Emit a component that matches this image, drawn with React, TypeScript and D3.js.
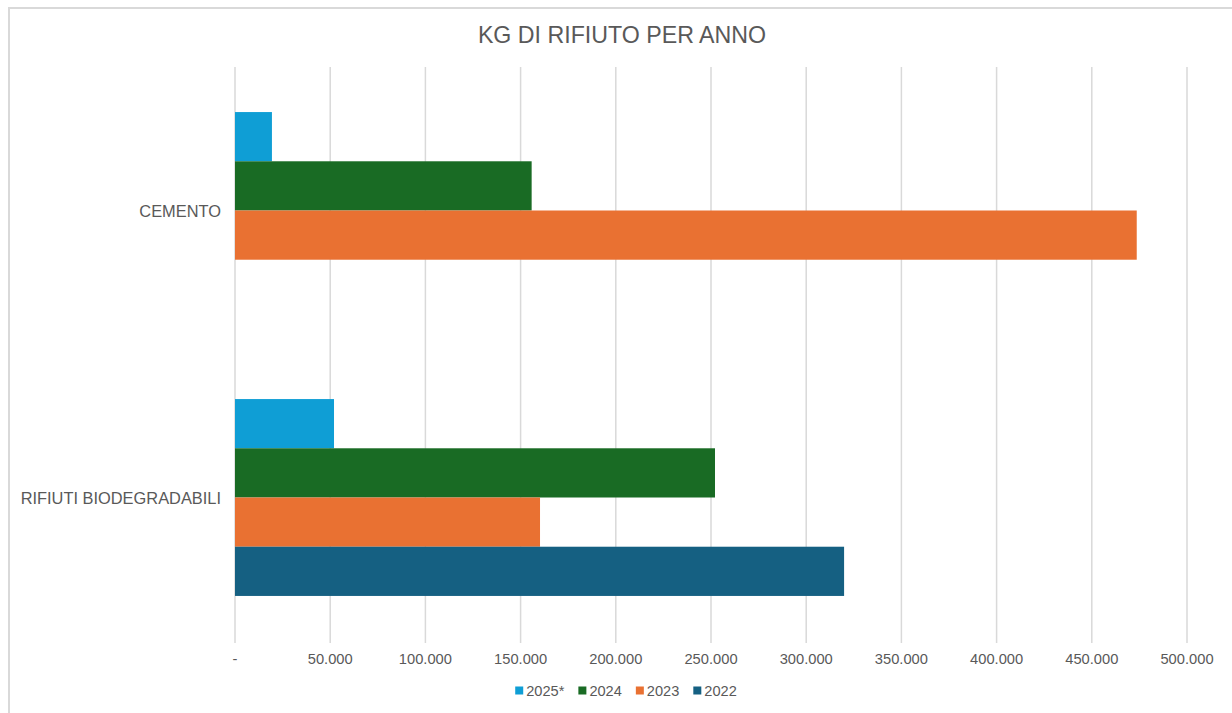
import React, { useEffect, useRef } from "react";
import * as d3 from "d3";

const categories = ["CEMENTO", "RIFIUTI BIODEGRADABILI"];
const seriesNames = ["2025*", "2024", "2023", "2022"];
const values2025 = [19400, 52000];
const values2024 = [155800, 252100];
const values2023 = [473600, 160200];
const values2022 = [0, 319900];
const xTicks = [0, 50000, 100000, 150000, 200000, 250000, 300000, 350000, 400000, 450000, 500000];
const seriesColors = ["#0f9ed5", "#196b24", "#e97132", "#156082"];

const W = 1232;
const H = 713;
const margins = { left: 235, right: 45, top: 67, bottom: 72 };
const FONT = "'Liberation Sans', Arial, sans-serif";

const itLocale = d3.formatLocale({ decimal: ",", thousands: ".", grouping: [3], currency: ["€", ""] });
const fmt = itLocale.format(",.0f");

export default function App() {
  const ref = useRef<SVGSVGElement>(null);

  useEffect(() => {
    const svg = d3.select(ref.current);
    svg.selectAll("*").remove();

    const allValues = [values2025, values2024, values2023, values2022];

    const x = d3.scaleLinear().domain([0, 500000]).range([margins.left, W - margins.right]);
    const y = d3
      .scaleBand()
      .domain(categories)
      .range([margins.top, H - margins.bottom])
      .paddingInner(0.314)
      .paddingOuter(0.157);
    const ySub = d3.scaleBand().domain(seriesNames).range([0, y.bandwidth()]);

    // chart frame
    svg.append("rect")
      .attr("x", 9).attr("y", 8).attr("width", W).attr("height", H)
      .attr("fill", "white").attr("stroke", "#d9d9d9").attr("stroke-width", 2);

    svg.append("text")
      .attr("x", 622).attr("y", 34.5)
      .attr("text-anchor", "middle").attr("dominant-baseline", "central")
      .attr("font-family", FONT).attr("font-size", 23.2).attr("fill", "#595959")
      .text("KG DI RIFIUTO PER ANNO");

    // gridlines
    svg.append("g").selectAll("line").data(xTicks).join("line")
      .attr("x1", (d) => x(d)).attr("x2", (d) => x(d))
      .attr("y1", margins.top).attr("y2", H - margins.bottom + 2)
      .attr("stroke", "#d9d9d9").attr("stroke-width", 1.5);

    // x labels
    svg.append("g").selectAll("text").data(xTicks).join("text")
      .attr("x", (d) => x(d)).attr("y", 659)
      .attr("text-anchor", "middle").attr("dominant-baseline", "central")
      .attr("font-family", FONT).attr("font-size", 14.7).attr("fill", "#595959")
      .text((d) => (d === 0 ? "-" : fmt(d)));

    // bars
    seriesNames.forEach((s, si) => {
      svg.append("g").selectAll("rect").data(categories).join("rect")
        .attr("x", x(0))
        .attr("y", (c) => (y(c) as number) + (ySub(s) as number))
        .attr("width", (c, i) => x(allValues[si][i]) - x(0))
        .attr("height", ySub.bandwidth())
        .attr("fill", seriesColors[si]);
    });

    // category labels
    svg.append("g").selectAll("text").data(categories).join("text")
      .attr("x", 221)
      .attr("y", (c) => (y(c) as number) + y.bandwidth() / 2)
      .attr("text-anchor", "end").attr("dominant-baseline", "central")
      .attr("font-family", FONT).attr("font-size", 16.4).attr("fill", "#595959")
      .text((c) => c);

    // legend
    const legend = svg.append("g");
    let cx = 0;
    seriesNames.forEach((s, i) => {
      const g = legend.append("g").attr("transform", `translate(${cx},0)`);
      g.append("rect").attr("x", 0).attr("y", -4).attr("width", 8).attr("height", 8).attr("fill", seriesColors[i]);
      const t = g.append("text")
        .attr("x", 11).attr("y", 0).attr("dominant-baseline", "central")
        .attr("font-family", FONT).attr("font-size", 14.6).attr("fill", "#595959")
        .text(s);
      const tw = (t.node() as SVGTextElement).getComputedTextLength();
      cx += 11 + tw + 14;
    });
    const total = cx - 14;
    legend.attr("transform", `translate(${626 - total / 2},690.5)`);
  }, []);

  return (
    <svg
      ref={ref}
      width={W}
      height={H}
      style={{ position: "absolute", left: 0, top: 0, background: "white" }}
    />
  );
}
